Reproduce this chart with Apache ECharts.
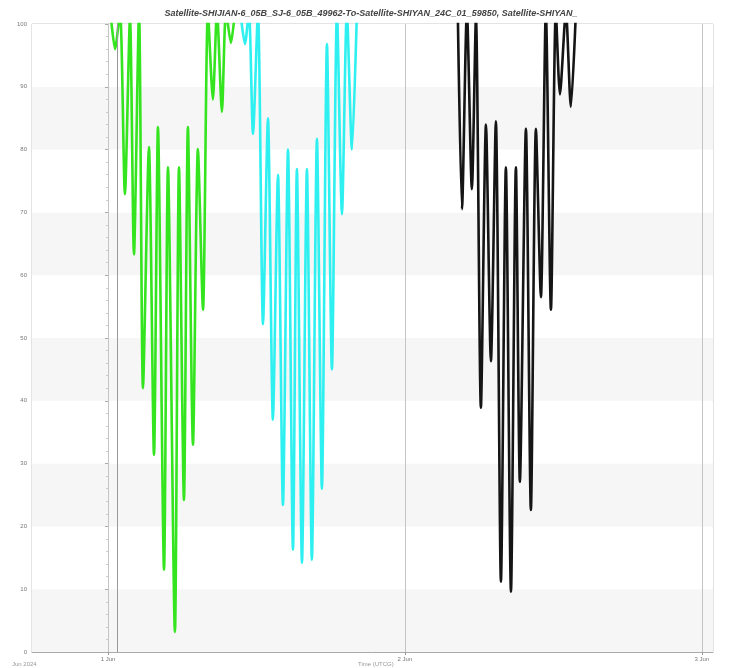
<!DOCTYPE html>
<html>
<head>
<meta charset="utf-8">
<script src="https://cdn.jsdelivr.net/npm/echarts@6/dist/echarts.min.js"></script>
<style>html,body{margin:0;padding:0;background:#fff}#c{width:734px;height:668px}</style>
</head>
<body>
<div id="c"></div>
<script>
// Hours from 1 Jun 2024 00:00 and values
const titleText = 'Satellite-SHIJIAN-6_05B_SJ-6_05B_49962-To-Satellite-SHIYAN_24C_01_59850, Satellite-SHIYAN_';
const yTicks = [0, 10, 20, 30, 40, 50, 60, 70, 80, 90, 100];
const xTickHours = [0, 24, 48];
const xTickLabels = ['1 Jun', '2 Jun', '3 Jun'];
const markHours = [0, 0.73, 24, 48];

const greenHours = [0.24,0.57,0.97,1.37,1.78,2.10,2.51,2.83,3.31,3.72,4.04,4.53,4.85,5.41,5.74,6.14,6.46,6.87,7.27,7.68,8.08,8.48,8.81,9.21,9.54,9.94,10.26];
const greenValues = [101,96,102,72.9,101,63.3,102,42,80.4,31.4,83.6,13.1,77.2,3.2,77.2,24.2,83.6,33,80.1,54.5,102,88,102,86,102,97,102];

const cyanHours = [10.75,11.07,11.39,11.72,12.12,12.53,12.93,13.33,13.74,14.14,14.55,14.95,15.27,15.68,16.08,16.48,16.89,17.29,17.70,18.10,18.51,18.91,19.31,19.72,20.12];
const cyanValues = [101,96.8,102,82.5,102,52.2,85,37,76,23.4,80,16.3,76.9,14.2,76.9,14.7,81.7,26,96.8,45,102,69.7,102,80,102];

const blackHours = [28.28,28.61,29.01,29.41,29.74,30.14,30.55,30.95,31.35,31.76,32.16,32.57,32.97,33.29,33.78,34.18,34.59,34.99,35.39,35.80,36.20,36.53,37.01,37.41,37.82];
const blackValues = [101,70.5,102,73.7,101,38.9,84,46.3,84.5,11.2,77.2,9.6,77.2,27.1,83.3,22.6,83.3,56.5,102,54.5,102,88.8,102,86.8,102];

function zip(a, b) { return a.map((x, i) => [x, b[i]]); }

const chart = echarts.init(document.getElementById('c'), null, {renderer: 'canvas'});
chart.setOption({
  animation: false,
  backgroundColor: '#ffffff',
  title: {
    text: titleText,
    left: 366, top: 4, textAlign: 'center',
    textStyle: {fontFamily: 'Liberation Sans', fontSize: 9, fontWeight: 'bold', fontStyle: 'italic', color: '#444'}
  },
  grid: {left: 32, right: 21, top: 24, bottom: 16, outerBoundsMode: 'none', containLabel: false,
    show: true, borderColor: '#c8c8c8', borderWidth: 1, backgroundColor: 'transparent'},
  xAxis: {
    type: 'value', min: -6.14, max: 48.9,
    axisLine: {show: true, lineStyle: {color: '#aaa'}},
    axisTick: {show: true, length: 3, lineStyle: {color: '#999'}, customValues: xTickHours},
    axisLabel: {fontSize: 6, color: '#777', margin: 4, fontFamily: 'Liberation Sans',
      customValues: xTickHours,
      formatter: v => xTickLabels[xTickHours.indexOf(Math.round(v))] || ''},
    splitLine: {show: false}
  },
  yAxis: {
    type: 'value', min: 0, max: 100, interval: 10,
    axisLine: {show: true, lineStyle: {color: '#aaa'}},
    axisTick: {show: true, length: 3, lineStyle: {color: '#aaa'}},
    minorTick: {show: true, splitNumber: 5, length: 2, lineStyle: {color: '#ccc'}},
    axisLabel: {fontSize: 6, color: '#777', margin: 5, fontFamily: 'Liberation Sans',
      customValues: yTicks},
    splitLine: {show: false},
    splitArea: {show: true, areaStyle: {color: ['#f6f6f6', '#ffffff']}}
  },
  graphic: [
    {type: 'text', left: 12, top: 661, style: {text: 'Jun 2024', fontSize: 6, fill: '#999', fontFamily: 'Liberation Sans'}},
    {type: 'text', left: 358, top: 661, style: {text: 'Time (UTCG)', fontSize: 6, fill: '#999', fontFamily: 'Liberation Sans'}}
  ],
  series: [
    {type: 'line', data: zip(greenHours, greenValues), showSymbol: false, clip: true, smooth: 0.25,
      lineStyle: {color: '#33e41e', width: 2.6}, itemStyle: {color: '#33e41e'},
      markLine: {silent: true, symbol: 'none',
        lineStyle: {color: '#c4c4c4', width: 1, type: 'solid'},
        label: {show: false},
        data: [
          {xAxis: markHours[0]},
          {xAxis: markHours[1], lineStyle: {color: '#9a9a9a', width: 1}},
          {xAxis: markHours[2]},
          {xAxis: markHours[3]}
        ]}},
    {type: 'line', data: zip(cyanHours, cyanValues), showSymbol: false, clip: true, smooth: 0.25,
      lineStyle: {color: '#2ef0f0', width: 2.6}, itemStyle: {color: '#2ef0f0'}},
    {type: 'line', data: zip(blackHours, blackValues), showSymbol: false, clip: true, smooth: 0.25,
      lineStyle: {color: '#151515', width: 2.6}, itemStyle: {color: '#151515'}}
  ]
});
</script>
</body>
</html>
